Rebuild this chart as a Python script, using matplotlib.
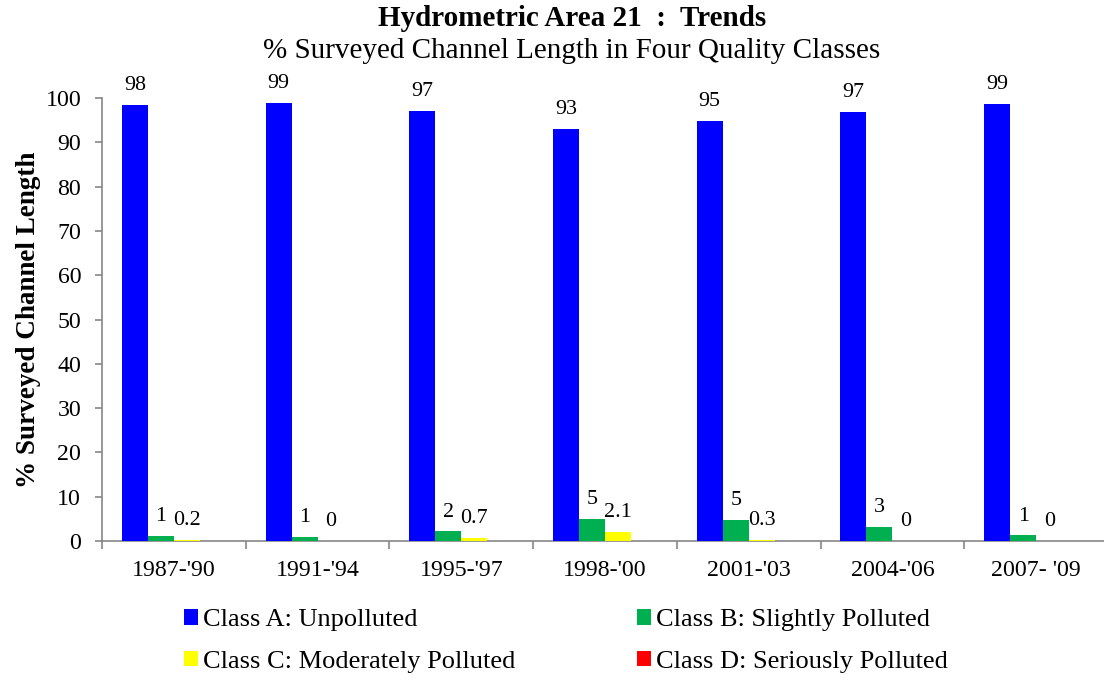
import matplotlib
matplotlib.use("Agg")
import matplotlib.pyplot as plt
import numpy as np

plt.rcParams['font.family'] = 'serif'
plt.rcParams['font.serif'] = ['Liberation Serif', 'DejaVu Serif']

periods = ["1987-'90", "1991-'94", "1995-'97", "1998-'00", "2001-'03", "2004-'06", "2007- '09"]
class_a = [98.4, 98.9, 97.1, 93.0, 94.9, 96.8, 98.6]
class_b = [1.2, 1.0, 2.2, 5.0, 4.8, 3.2, 1.3]
class_c = [0.2, 0.0, 0.7, 2.1, 0.3, 0.0, 0.0]
class_d = [0.0, 0.0, 0.0, 0.0, 0.0, 0.0, 0.0]

names = ["Class A: Unpolluted", "Class B: Slightly Polluted",
         "Class C: Moderately Polluted", "Class D: Seriously Polluted"]
colors = ['#0000ff', '#00b050', '#ffff00', '#ff0000']

fig = plt.figure(figsize=(11.04, 6.8), dpi=100)
ax = fig.add_axes([102/1104, 1 - 541/680, 1006/1104, (541 - 98)/680])

x = np.arange(len(periods))
w = 0.181
series = [class_a, class_b, class_c, class_d]
bars = []
for i, vals in enumerate(series):
    b = ax.bar(x + (i - 1.5)*w, vals, w, color=colors[i], label=names[i], zorder=3)
    bars.append(b)

fs = 15.8
# value labels (class D has none)
ax.bar_label(bars[0], labels=['%.0f' % v for v in class_a], padding=7, fontsize=fs)
ax.bar_label(bars[1], labels=['%.0f' % v for v in class_b], padding=7, fontsize=fs)
ax.bar_label(bars[2], labels=['%g' % v for v in class_c], padding=7, fontsize=fs)

ax.set_xlim(-0.5, len(periods) - 0.5)
ax.set_ylim(0, 100)
ax.set_yticks(range(0, 101, 10))
ax.set_xticks(x)
ax.set_xticklabels(periods, fontsize=17.2)
ax.set_xticks(np.arange(-0.5, len(periods)), minor=True)
ax.tick_params(axis='x', which='major', length=0, pad=14)
ax.tick_params(axis='x', which='minor', length=6, color='#868686', width=1.2)
ax.tick_params(axis='y', labelsize=17.2, length=5, color='#868686', width=1.2, pad=10)

for s in ['top', 'right']:
    ax.spines[s].set_visible(False)
for s in ['left', 'bottom']:
    ax.spines[s].set_color('#868686')
    ax.spines[s].set_linewidth(1.2)

ax.set_ylabel('% Surveyed Channel Length', fontsize=19.5, fontweight='bold', labelpad=3)

fig.text(572/1104, 1 - 19/680, 'Hydrometric Area 21  :  Trends', ha='center', va='center',
         fontsize=21, fontweight='bold')
fig.text(572/1104, 1 - 51/680, '% Surveyed Channel Length in Four Quality Classes', ha='center',
         va='center', fontsize=21)

# row-wise order: A B / C D
order = [0, 2, 1, 3]
leg = fig.legend([bars[i] for i in order], [names[i] for i in order], ncol=2,
                 loc='center left', bbox_to_anchor=(184/1104, 1 - 641/680), frameon=False,
                 fontsize=19, handlelength=0.53, handleheight=0.53, handletextpad=0.2,
                 columnspacing=4.6, labelspacing=0.75, borderaxespad=0, borderpad=0)

fig.savefig('out.png', dpi=100)
